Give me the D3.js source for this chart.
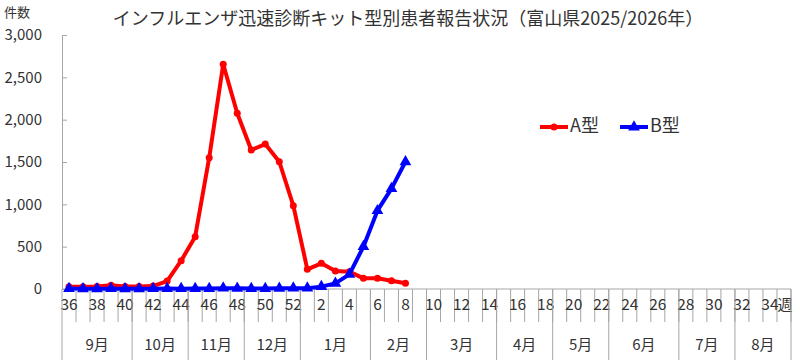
<!DOCTYPE html>
<html>
<head>
    <meta charset="utf-8">
    <title>インフルエンザ迅速診断キット型別患者報告状況</title>
    <script src="https://cdnjs.cloudflare.com/ajax/libs/d3/7.8.5/d3.min.js"></script>
    <style>
        html, body {
            margin: 0;
            padding: 0;
            background: #fff;
        }
        svg text {
            font-family: "Noto Sans CJK JP", "Noto Sans", sans-serif;
            fill: #333;
        }
    </style>
</head>
<body>
    <div id="chart"></div>

    <script>
        // weeks 36..52 then 1..35
        var weeks = d3.range(36, 53).concat(d3.range(1, 36));

        // month labels and how many weeks each one spans
        var months = ["9月", "10月", "11月", "12月", "1月", "2月", "3月", "4月", "5月", "6月", "7月", "8月"];
        var monthWeeks = [5, 4, 4, 4, 5, 4, 5, 4, 4, 5, 4, 4];

        var yTicks = [0, 500, 1000, 1500, 2000, 2500, 3000];

        // reported so far (36th week 2025 .. 8th week 2026)
        var typeA = [27, 27, 30, 43, 30, 30, 35, 94, 334, 618, 1551, 2654, 2075,
                     1642, 1712, 1503, 984, 232, 303, 213, 205, 126, 126, 98, 67];
        var typeB = [5, 3, 3, 4, 3, 3, 4, 5, 4, 5, 6, 10, 8, 6, 5, 8, 10,
                     10, 28, 67, 173, 500, 925, 1185, 1503];

        var width = 800, height = 360;
        var plotLeft = 62, plotRight = 791, plotTop = 35, plotBottom = 289;

        var svg = d3.select("#chart")
            .append("svg")
            .attr("width", width)
            .attr("height", height);

        var x = d3.scaleBand()
            .domain(weeks)
            .range([plotLeft, plotRight])
            .padding(0);

        var y = d3.scaleLinear()
            .domain([0, 3000])
            .range([plotBottom, plotTop]);

        var axisColor = "#a6a6a6";

        // title
        svg.append("text")
            .attr("x", 408)
            .attr("y", 20)
            .attr("text-anchor", "middle")
            .attr("dominant-baseline", "middle")
            .attr("font-size", "18px")
            .text("インフルエンザ迅速診断キット型別患者報告状況（富山県2025/2026年）");

        svg.append("text")
            .attr("x", 4)
            .attr("y", 13)
            .attr("dominant-baseline", "middle")
            .attr("font-size", "13px")
            .text("件数");

        // y axis, ticks pointing inwards
        var yAxis = svg.append("g")
            .attr("transform", "translate(" + plotLeft + ",0)")
            .call(d3.axisLeft(y)
                .tickValues(yTicks)
                .tickSizeInner(-5)
                .tickSizeOuter(0)
                .tickPadding(20)
                .tickFormat(d3.format(",")));
        yAxis.select(".domain").attr("stroke", axisColor);
        yAxis.selectAll(".tick line").attr("stroke", axisColor);
        yAxis.selectAll(".tick text")
            .attr("font-size", "15px")
            .attr("fill", "#333");

        // x axis line
        svg.append("line")
            .attr("x1", plotLeft).attr("x2", plotRight)
            .attr("y1", plotBottom).attr("y2", plotBottom)
            .attr("stroke", axisColor);

        // short week separators
        svg.append("g")
            .selectAll("line")
            .data(weeks)
            .join("line")
            .attr("x1", d => x(d) + x.bandwidth())
            .attr("x2", d => x(d) + x.bandwidth())
            .attr("y1", plotBottom)
            .attr("y2", 322)
            .attr("stroke", axisColor);

        // week labels, every other week
        svg.append("g")
            .selectAll("text")
            .data(weeks.filter((d, i) => i % 2 == 0))
            .join("text")
            .attr("x", d => x(d) + x.bandwidth() / 2)
            .attr("y", 306)
            .attr("text-anchor", "middle")
            .attr("dominant-baseline", "middle")
            .attr("font-size", "15.5px")
            .text(d => d);

        svg.append("text")
            .attr("x", 785)
            .attr("y", 306)
            .attr("text-anchor", "middle")
            .attr("dominant-baseline", "middle")
            .attr("font-size", "15px")
            .text("週");

        // month blocks
        var monthData = [];
        var start = 0;
        months.forEach(function (m, i) {
            monthData.push({ name: m, from: start, to: start + monthWeeks[i] });
            start += monthWeeks[i];
        });
        function weekEdge(idx) {
            return idx >= weeks.length ? plotRight : x(weeks[idx]);
        }

        svg.append("g")
            .selectAll("line")
            .data([0].concat(monthData.map(d => d.to)))
            .join("line")
            .attr("x1", d => weekEdge(d))
            .attr("x2", d => weekEdge(d))
            .attr("y1", plotBottom)
            .attr("y2", height)
            .attr("stroke", axisColor);

        svg.append("g")
            .selectAll("text")
            .data(monthData)
            .join("text")
            .attr("x", d => (weekEdge(d.from) + weekEdge(d.to)) / 2)
            .attr("y", 346)
            .attr("text-anchor", "middle")
            .attr("dominant-baseline", "middle")
            .attr("font-size", "15px")
            .text(d => d.name);

        // lines: A first, B drawn on top
        var line = d3.line()
            .x((d, i) => x(weeks[i]) + x.bandwidth() / 2)
            .y(d => y(d));

        var tri = d3.symbol().type(d3.symbolTriangle).size(60);

        svg.append("path")
            .datum(typeA)
            .attr("d", line)
            .attr("fill", "none")
            .attr("stroke", "#ff0000")
            .attr("stroke-width", 4)
            .attr("stroke-linejoin", "round");

        svg.append("g")
            .selectAll("circle")
            .data(typeA)
            .join("circle")
            .attr("cx", (d, i) => x(weeks[i]) + x.bandwidth() / 2)
            .attr("cy", d => y(d))
            .attr("r", 3.5)
            .attr("fill", "#ff0000");

        svg.append("path")
            .datum(typeB)
            .attr("d", line)
            .attr("fill", "none")
            .attr("stroke", "#0000ff")
            .attr("stroke-width", 4)
            .attr("stroke-linejoin", "round");

        svg.append("g")
            .selectAll("path")
            .data(typeB)
            .join("path")
            .attr("d", tri)
            .attr("transform", (d, i) => "translate(" + (x(weeks[i]) + x.bandwidth() / 2) + "," + y(d) + ")")
            .attr("fill", "#0000ff");

        // legend
        var legend = svg.append("g").attr("transform", "translate(540,127)");
        legend.append("line")
            .attr("x1", 0).attr("x2", 28)
            .attr("stroke", "#ff0000").attr("stroke-width", 4);
        legend.append("circle")
            .attr("cx", 14).attr("r", 3.5).attr("fill", "#ff0000");
        legend.append("text")
            .attr("x", 30).attr("y", 0)
            .attr("dominant-baseline", "middle")
            .attr("font-size", "18px")
            .text("A型");

        legend.append("line")
            .attr("x1", 80).attr("x2", 108)
            .attr("stroke", "#0000ff").attr("stroke-width", 4);
        legend.append("path")
            .attr("d", tri)
            .attr("transform", "translate(94,0)")
            .attr("fill", "#0000ff");
        legend.append("text")
            .attr("x", 110).attr("y", 0)
            .attr("dominant-baseline", "middle")
            .attr("font-size", "18px")
            .text("B型");
    </script>
</body>
</html>
